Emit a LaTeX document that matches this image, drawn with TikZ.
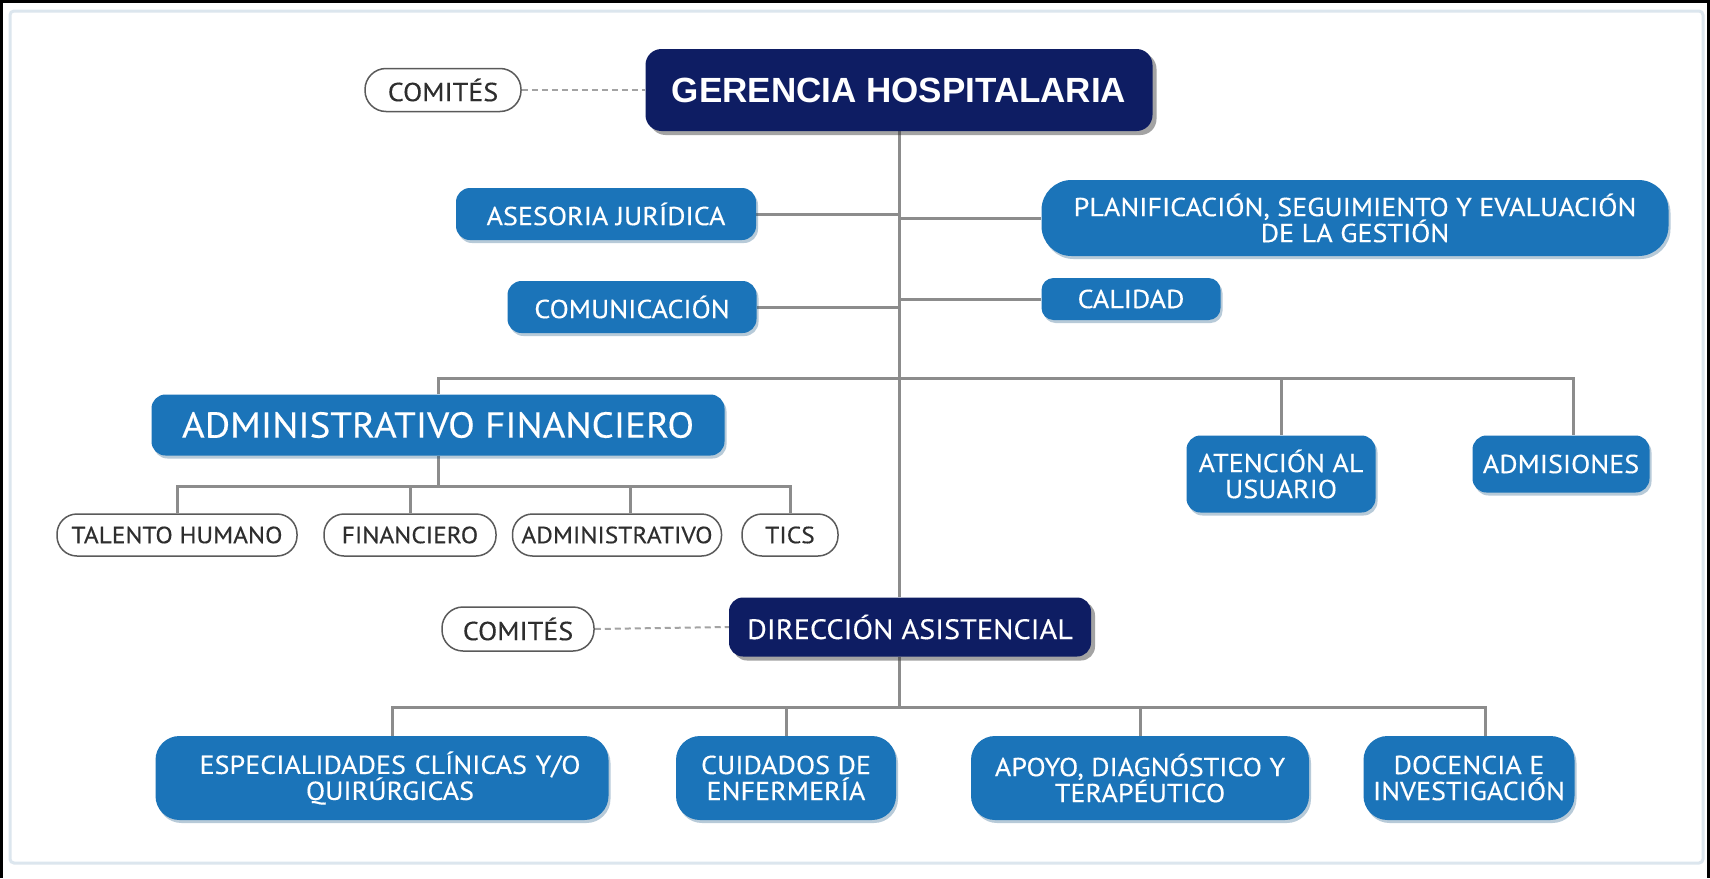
\documentclass[tikz,border=0pt]{standalone}
\usepackage{fontspec}
\setmainfont{PT Sans}[FakeStretch=1.08, FakeBold=0.3]
\newfontfamily\gerfont{Liberation Sans}
\usetikzlibrary{shadows,backgrounds}
\newcommand\tightls{\lineskiplimit=-30pt\relax}
\definecolor{navy}{HTML}{0E1D63}
\definecolor{midblue}{HTML}{1B74B9}
\definecolor{linegrey}{HTML}{8C8C8C}
\definecolor{ovalline}{HTML}{5A5A5A}
\definecolor{ovaltext}{HTML}{2E2E2E}
\definecolor{framec}{HTML}{DCE6EE}
\begin{document}
\begin{tikzpicture}[x=1pt,y=-1pt,
  bluebox/.style={rectangle, rounded corners=14pt, fill=midblue, text=white, align=center, inner sep=0pt,
    font={\fontsize{26}{26}\selectfont\tightls},
    drop shadow={shadow xshift=2pt, shadow yshift=-3pt, opacity=0.3, fill=midblue!70!black}},
  navybox/.style={rectangle, rounded corners=14pt, fill=navy, text=white, align=center, inner sep=0pt,
    font=\fontsize{28}{30}\selectfont,
    drop shadow={shadow xshift=4pt, shadow yshift=-4pt, opacity=0.45, fill=black!80}},
  ovalbox/.style={rectangle, rounded corners=20pt, draw=ovalline, line width=1.5pt, fill=white, text=ovaltext,
    inner sep=0pt, minimum height=42pt, font=\fontsize{23.5}{26}\selectfont},
  link/.style={draw=linegrey, line width=3pt},
  dlink/.style={draw=linegrey!80, line width=2pt, dash pattern=on 6pt off 4pt},
]
\useasboundingbox (0,0) rectangle (1710,878);
% nodes
\node[navybox, minimum width=507pt, minimum height=82pt, rounded corners=16pt, font=\gerfont\bfseries\fontsize{35}{38}\selectfont] (ger) at (899,90) {GERENCIA HOSPITALARIA};
\node[ovalbox, minimum width=156pt, minimum height=43pt, rounded corners=21pt, font=\fontsize{26}{28}\selectfont] (com1) at (443,90) {COMITÉS};
\node[bluebox, minimum width=300pt, minimum height=52pt] (ase) at (606,214) {ASESORIA JURÍDICA};
\node[bluebox, minimum width=627pt, minimum height=76pt, rounded corners=30pt] (pla) at (1355,218) {PLANIFICACIÓN, SEGUIMIENTO Y EVALUACIÓN\\DE LA GESTIÓN};
\node[bluebox, minimum width=249pt, minimum height=52pt] (comu) at (632,307) {COMUNICACIÓN};
\node[bluebox, minimum width=179pt, minimum height=42pt, rounded corners=12pt] (cal) at (1131,299) {CALIDAD};
\node[bluebox, minimum width=573pt, minimum height=61pt, font=\fontsize{36}{38}\selectfont] (adm) at (438,425) {ADMINISTRATIVO FINANCIERO};
\node[bluebox, minimum width=189pt, minimum height=77pt] (ate) at (1281,474) {ATENCIÓN AL\\USUARIO};
\node[bluebox, minimum width=177pt, minimum height=57pt] (admi) at (1561,464) {ADMISIONES};
\node[ovalbox, minimum width=240pt] (tal) at (177,535) {TALENTO HUMANO};
\node[ovalbox, minimum width=172pt] (fin) at (410,535) {FINANCIERO};
\node[ovalbox, minimum width=209pt] (admv) at (617,535) {ADMINISTRATIVO};
\node[ovalbox, minimum width=96pt] (tic) at (790,535) {TICS};
\node[navybox, minimum width=362pt, minimum height=59pt] (dir) at (910,627) {DIRECCIÓN ASISTENCIAL};
\node[ovalbox, minimum width=152pt, minimum height=44pt, rounded corners=21pt, font=\fontsize{26}{28}\selectfont] (com2) at (518,629) {COMITÉS};
\node[bluebox, minimum width=453pt, minimum height=84pt, rounded corners=24pt, text width=453pt] (esp) at (382,778) {\hspace*{16pt}ESPECIALIDADES CLÍNICAS Y/O\\\hspace*{16pt}QUIRÚRGICAS};
\node[bluebox, minimum width=220pt, minimum height=84pt, rounded corners=24pt] (cui) at (786,778) {CUIDADOS DE\\ENFERMERÍA};
\node[bluebox, minimum width=338pt, minimum height=84pt, rounded corners=24pt] (apo) at (1140,778) {APOYO, DIAGNÓSTICO Y\\TERAPÉUTICO};
\node[bluebox, minimum width=211pt, minimum height=84pt, rounded corners=24pt] (doc) at (1469,778) {DOCENCIA E\\INVESTIGACIÓN};
\coordinate (bus1) at (898,378);
\coordinate (bus2) at (0,486);
\coordinate (bus3) at (0,707);
\coordinate (admiN) at ([xshift=12pt]admi.north);
\coordinate (admvN) at ([xshift=13pt]admv.north);
\coordinate (espN) at ([xshift=10pt]esp.north);
\coordinate (docN) at ([xshift=16pt]doc.north);
\begin{scope}[on background layer]
\fill[white] (0,0) rectangle (1710,878);
\draw[framec, line width=3pt, rounded corners=4pt] (10,11) rectangle (1703,863);
\draw[black, line width=3pt] (1.5,878) -- (1.5,1.5) -- (1708.5,1.5) -- (1708.5,878);
% main trunk
\draw[link] (ger.south) -- (ger.south |- dir.north);
\draw[link] (ger.south |- dir.south) -- (ger.south |- bus3);
% staff
\draw[link] (ger.south |- ase.east) -- (ase.east);
\draw[link] (ger.south |- pla.west) -- (pla.west);
\draw[link] (ger.south |- comu.east) -- (comu.east);
\draw[link] (ger.south |- cal.west) -- (cal.west);
% bus 1
\draw[link] (adm.north) |- (admiN |- bus1) -- (admiN);
\draw[link] (ate.north |- bus1) -- (ate.north);
% bus 2
\draw[link] (adm.south) -- (adm.south |- bus2);
\draw[link] (tal.north) |- (tic.north |- bus2) -- (tic.north);
\draw[link] (fin.north |- bus2) -- (fin.north);
\draw[link] (admvN |- bus2) -- (admvN);
% bus 3
\draw[link] (espN) |- (docN |- bus3) -- (docN);
\draw[link] (cui.north |- bus3) -- (cui.north);
\draw[link] (apo.north |- bus3) -- (apo.north);
% committees
\draw[dlink] (com1.east) -- (ger.west);
\draw[dlink] (com2.east) -- (dir.west);
\end{scope}
\end{tikzpicture}
\end{document}
